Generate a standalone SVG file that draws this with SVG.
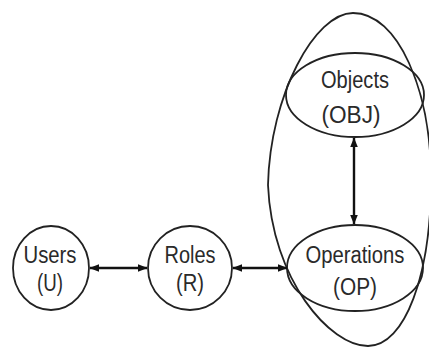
<svg xmlns="http://www.w3.org/2000/svg" width="429" height="347" viewBox="0 0 429 347">
<style>
.n{fill:none;stroke:#222;stroke-width:1.8}
.t{font-family:"Liberation Sans",Arial,sans-serif;font-size:23px;fill:#2a2a2a;text-anchor:middle}
.c{stroke:#111;stroke-width:2.4;fill:none;marker-start:url(#ah);marker-end:url(#ah)}
</style>
<defs>
<marker id="ah" viewBox="0 0 10 8" refX="9.5" refY="4" markerWidth="4" markerHeight="3.2" orient="auto-start-reverse" markerUnits="strokeWidth">
<path d="M0,0 L10,4 L0,8 z" fill="#111"/>
</marker>
</defs>
<rect width="429" height="347" fill="#fff"/>
<g id="scope">
<path class="n" d="M353,13 C398,13 431,90 431,180 C431,275 405,346 368,346 C330,346 272,280 268,185 C270,95 315,13 353,13 Z"/>
</g>
<g id="users">
<ellipse class="n" cx="51" cy="268" rx="38" ry="42"/>
<text class="t" x="50" y="263" textLength="53" lengthAdjust="spacingAndGlyphs">Users</text>
<text class="t" x="50" y="291" textLength="26" lengthAdjust="spacingAndGlyphs">(U)</text>
</g>
<g id="roles">
<ellipse class="n" cx="190" cy="268" rx="42" ry="42"/>
<text class="t" x="190" y="263" textLength="51" lengthAdjust="spacingAndGlyphs">Roles</text>
<text class="t" x="190" y="291" textLength="28" lengthAdjust="spacingAndGlyphs">(R)</text>
</g>
<g id="operations">
<ellipse class="n" cx="355" cy="268" rx="68" ry="43"/>
<text class="t" x="355" y="263" textLength="99" lengthAdjust="spacingAndGlyphs">Operations</text>
<text class="t" x="355" y="295" textLength="44" lengthAdjust="spacingAndGlyphs">(OP)</text>
</g>
<g id="objects">
<ellipse class="n" cx="355" cy="95" rx="69" ry="42"/>
<text class="t" x="355" y="88" textLength="68" lengthAdjust="spacingAndGlyphs">Objects</text>
<text class="t" x="351" y="123" textLength="59" lengthAdjust="spacingAndGlyphs">(OBJ)</text>
</g>
<g id="connectors">
<line class="c" x1="90" y1="268" x2="147" y2="268"/>
<line class="c" x1="233" y1="268" x2="287" y2="268"/>
<line class="c" x1="354" y1="138" x2="354" y2="224"/>
</g>
</svg>
